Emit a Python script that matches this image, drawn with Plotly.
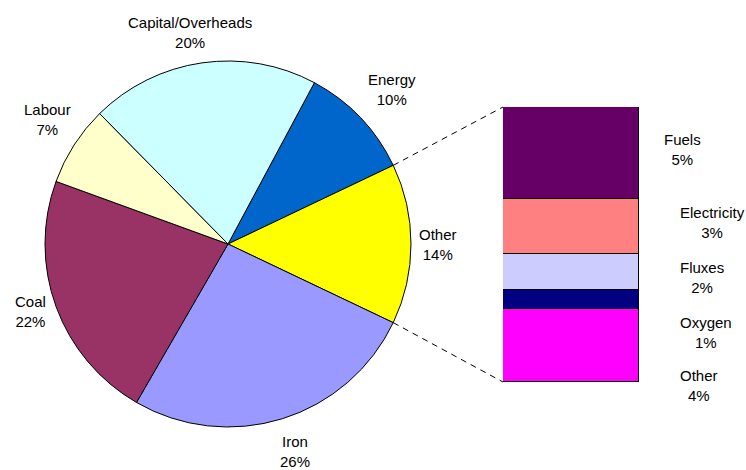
import math
import plotly.graph_objects as go

# Share of total cost (%), in clockwise order starting at "Energy"
pie_labels = ["Energy", "Other", "Iron", "Coal", "Labour", "Capital/Overheads"]
pie_values = [10, 14, 26, 22, 7, 20]
pie_colors = ["#0066CC", "#FFFF00", "#9999FF", "#993366", "#FFFFCC", "#CCFFFF"]

# Breakdown of the "Other" slice, listed top to bottom of the column
bar_labels = ["Fuels", "Electricity", "Fluxes", "Oxygen", "Other"]
bar_values = [5, 3, 2, 1, 4]
bar_colors = ["#660066", "#FF8080", "#CCCCFF", "#000080", "#FF00FF"]

# ---- layout (pixels) ----
W, H = 746, 470
PIE_CX, PIE_CY, PIE_R = 228, 244, 183
BAR_X0, BAR_X1, BAR_TOP, BAR_BOTTOM = 503, 639, 107, 382

# label block centres for the pie, left edge / centre-y for the column labels
PIE_LABEL_POS = {
    "Energy": (392, 90),
    "Other": (438, 244.5),
    "Iron": (294.5, 451.5),
    "Coal": (30, 311),
    "Labour": (47, 119.5),
    "Capital/Overheads": (190, 32.5),
}
BAR_LABEL_POS = [(662, 149.5), (678, 223), (678, 277.5), (678, 332), (678, 385.5)]

FONT = dict(family="Liberation Sans, Arial, sans-serif", size=15, color="#000000")


def px_to_paper(x, y):
    return x / W, 1 - y / H


total = sum(pie_values)
idx_other = pie_labels.index("Other")
before_other = sum(pie_values[:idx_other])
# put the "Other" slice symmetric about 3 o'clock
rotation = 90 - (before_other + pie_values[idx_other] / 2) / total * 360

fig = go.Figure()

fig.add_trace(go.Pie(
    labels=pie_labels,
    values=pie_values,
    sort=False,
    direction="clockwise",
    rotation=rotation,
    marker=dict(colors=pie_colors, line=dict(color="#000000", width=1)),
    textinfo="none",
    hoverinfo="skip",
    domain=dict(
        x=[(PIE_CX - PIE_R) / W, (PIE_CX + PIE_R) / W],
        y=[1 - (PIE_CY + PIE_R) / H, 1 - (PIE_CY - PIE_R) / H],
    ),
    showlegend=False,
))

# stacked column: first trace sits at the bottom
for lab, val, col in reversed(list(zip(bar_labels, bar_values, bar_colors))):
    fig.add_trace(go.Bar(
        x=[0], y=[val], name=lab, width=1,
        marker=dict(color=col, line=dict(color="#000000", width=1)),
        hoverinfo="skip", showlegend=False,
    ))

annotations = []
for lab, val in zip(pie_labels, pie_values):
    x, y = PIE_LABEL_POS[lab]
    px_, py_ = px_to_paper(x, y)
    annotations.append(dict(
        x=px_, y=py_, xref="paper", yref="paper",
        text=f"{lab}<br>{val}%", showarrow=False,
        xanchor="center", yanchor="middle", align="center", font=FONT,
    ))
for (x, y), lab, val in zip(BAR_LABEL_POS, bar_labels, bar_values):
    px_, py_ = px_to_paper(x, y)
    annotations.append(dict(
        x=px_, y=py_, xref="paper", yref="paper",
        text=f"{lab}<br>{val}%", showarrow=False,
        xanchor="left", yanchor="middle", align="center", font=FONT,
    ))

# dashed connectors from the edges of the "Other" slice to the column corners
shapes = []
start = rotation + before_other / total * 360
end = start + pie_values[idx_other] / total * 360
for ang, ytarget in ((start, BAR_TOP), (end, BAR_BOTTOM)):
    a = math.radians(ang)
    x0 = PIE_CX + PIE_R * math.sin(a)
    y0 = PIE_CY - PIE_R * math.cos(a)
    p0 = px_to_paper(x0, y0)
    p1 = px_to_paper(BAR_X0, ytarget)
    shapes.append(dict(
        type="line", xref="paper", yref="paper",
        x0=p0[0], y0=p0[1], x1=p1[0], y1=p1[1],
        line=dict(color="#000000", width=1, dash="6px,5px"),
    ))

fig.update_layout(
    width=W, height=H,
    margin=dict(l=0, r=0, t=0, b=0),
    paper_bgcolor="#FFFFFF", plot_bgcolor="#FFFFFF",
    barmode="stack", bargap=0,
    xaxis=dict(domain=[BAR_X0 / W, BAR_X1 / W], range=[-0.5, 0.5], visible=False,
               fixedrange=True),
    yaxis=dict(domain=[1 - BAR_BOTTOM / H, 1 - BAR_TOP / H], range=[0, sum(bar_values)],
               visible=False, fixedrange=True),
    annotations=annotations,
    shapes=shapes,
    font=FONT,
    hovermode=False,
)

fig.write_html("out.html", config={"displayModeBar": False})
